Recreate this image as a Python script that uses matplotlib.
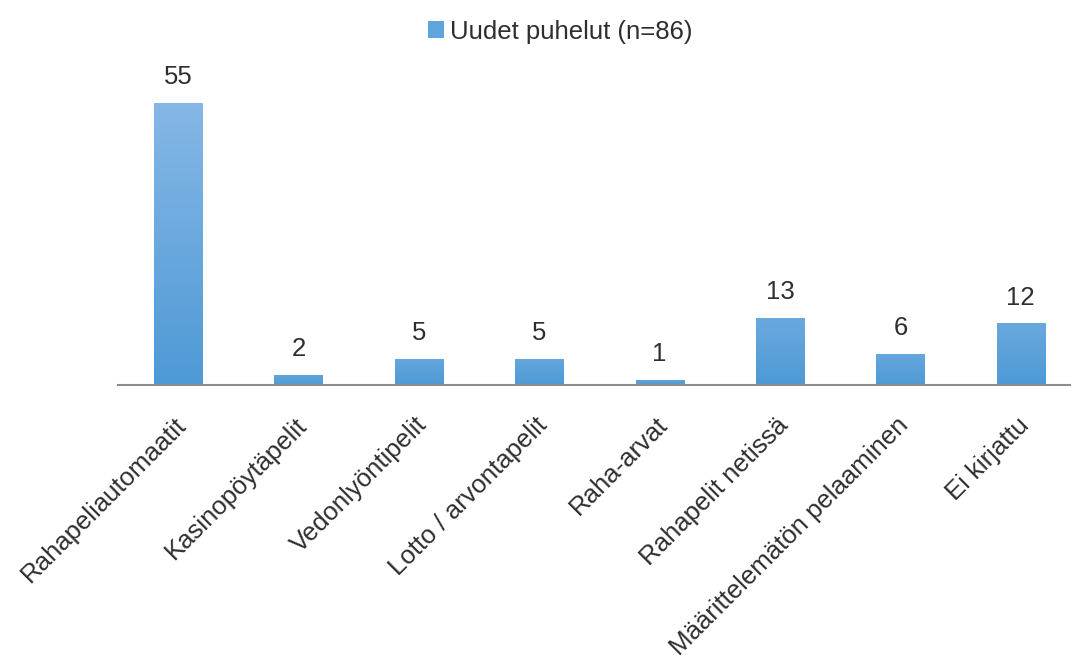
import numpy as np
import matplotlib
matplotlib.use("Agg")
import matplotlib.pyplot as plt
from matplotlib.colors import LinearSegmentedColormap
from matplotlib.patches import Patch

plt.rcParams["font.family"] = ["Liberation Sans", "DejaVu Sans"]

categories = [
    "Rahapeliautomaatit",
    "Kasinopöytäpelit",
    "Vedonlyöntipelit",
    "Lotto / arvontapelit",
    "Raha-arvat",
    "Rahapelit netissä",
    "Määrittelemätön pelaaminen",
    "Ei kirjattu",
]
values = [55, 2, 5, 5, 1, 13, 6, 12]
series_name = "Uudet puhelut (n=86)"

text_color = "#2e2e2e"
bar_top = "#86b7e6"
bar_bottom = "#4e9ad6"
bar_mid = "#5ea5de"
fs = 18.5

fig = plt.figure(figsize=(10.71, 6.61), dpi=100)
ax = fig.add_axes([118 / 1071, 276 / 661, 963 / 1071, 308 / 661])

x = np.arange(len(categories))
width = 0.40

# vertical gradient fill for each bar
cmap = LinearSegmentedColormap.from_list("bar", [bar_bottom, bar_top])
bars = ax.bar(x, values, width=width, color=bar_mid, edgecolor="none", zorder=2)
for rect, v in zip(bars, values):
    x0 = rect.get_x()
    top = 0.35 + 0.65 * v / max(values)
    g = np.linspace(0, top, 256).reshape(-1, 1)
    im = ax.imshow(g, cmap=cmap, vmin=0, vmax=1, origin="lower",
                   extent=(x0, x0 + rect.get_width(), 0, v),
                   aspect="auto", zorder=3, interpolation="bilinear")
    im.set_clip_path(rect)

for xi, v in zip(x, values):
    ax.annotate(str(v), (xi, v), xytext=(0, 10), textcoords="offset points",
                ha="center", va="bottom", fontsize=fs, color=text_color)

# category names, rotated, ending just under each bar
for xi, name in zip(x, categories):
    ax.annotate(name, (xi, 0), xytext=(-3, -20), textcoords="offset points",
                rotation=45, rotation_mode="anchor", ha="right", va="top",
                fontsize=fs, color=text_color, annotation_clip=False)

ax.set_xlim(-0.5, len(categories) - 0.5)
ax.set_ylim(0, 60)

for side in ["top", "right", "left"]:
    ax.spines[side].set_visible(False)
ax.spines["bottom"].set_color("#8c8c8c")
ax.spines["bottom"].set_linewidth(1.5)
ax.spines["bottom"].set_zorder(4)
ax.set_yticks([])
ax.set_xticks([])

handle = Patch(facecolor=bar_mid, edgecolor="none")
fig.legend([handle], [series_name], loc="center", bbox_to_anchor=(0.523, 0.952),
           frameon=False, fontsize=fs, handlelength=0.62, handleheight=0.62,
           handletextpad=0.25, labelcolor=text_color)

fig.savefig("out.png", dpi=100, facecolor="white")
